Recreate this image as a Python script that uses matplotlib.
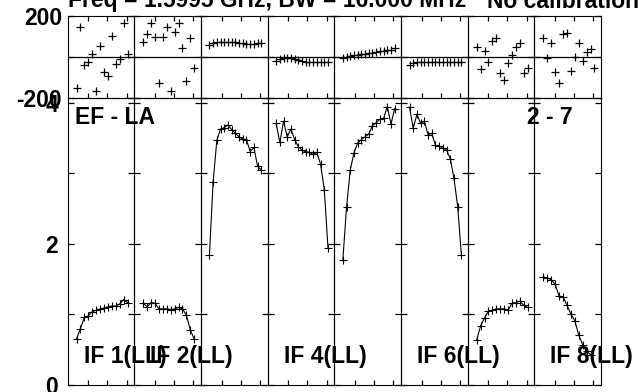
import numpy as np
import matplotlib
matplotlib.use("Agg")
import matplotlib.pyplot as plt

plt.rcParams['font.family'] = ['Liberation Sans', 'DejaVu Sans']
plt.rcParams['font.weight'] = 'bold'
plt.rcParams['font.size'] = 16.5

title_main = "Freq = 1.5995 GHz, BW = 16.000 MHz"
title_note = "No calibration"
baseline_label = "EF - LA"
scan_label = "2 - 7"
if_labels = ["IF 1(LL)", "IF 2(LL)", "", "IF 4(LL)", "", "IF 6(LL)", "", "IF 8(LL)"]

phase_if1 = [-154, 145, -40, -23, 12, -166, 53, -73, -94, 102, -35, -12, 164, 14]
phase_if2 = [74, 112, 167, 96, -130, 96, 145, -166, 123, 167, 42, -118, 91, -53]
phase_if3 = [58, 66, 71, 73, 74, 74, 73, 71, 68, 66, 64, 63, 64, 66, 70]
phase_if4 = [-18, -12, -8, -5, -7, -11, -15, -19, -23, -25, -27, -27, -27, -26, -25]
phase_if5 = [-6, -1, 4, 8, 11, 14, 16, 19, 21, 24, 27, 29, 32, 35, 44]
phase_if6 = [-42, -31, -26, -24, -23, -23, -23, -23, -23, -23, -23, -23, -23, -23, -24]
phase_if7 = [47, -61, 30, -24, 79, 91, -81, -113, -32, 9, 47, 69, -78, -56]
phase_if8 = [91, -7, 66, -73, -127, 110, 115, -68, 1, 66, -19, 25, 37, -56]

amp_if1 = [0.65, 0.80, 0.96, 0.98, 1.04, 1.06, 1.08, 1.09, 1.11, 1.12, 1.12, 1.15, 1.21, 1.17]
amp_if2 = [1.16, 1.11, 1.17, 1.16, 1.08, 1.08, 1.08, 1.07, 1.08, 1.10, 1.08, 0.99, 0.78, 0.65]
amp_if3 = [1.84, 2.88, 3.47, 3.63, 3.65, 3.69, 3.62, 3.57, 3.52, 3.49, 3.48, 3.31, 3.37, 3.10, 3.05]
amp_if4 = [3.71, 3.44, 3.74, 3.52, 3.63, 3.48, 3.38, 3.33, 3.31, 3.30, 3.27, 3.30, 3.13, 2.77, 1.94]
amp_if5 = [1.77, 2.52, 3.05, 3.29, 3.43, 3.48, 3.52, 3.56, 3.68, 3.72, 3.77, 3.78, 3.95, 3.70, 3.92]
amp_if6 = [3.94, 3.64, 3.84, 3.71, 3.74, 3.55, 3.57, 3.40, 3.39, 3.36, 3.33, 3.21, 2.93, 2.53, 1.84]
amp_if7 = [0.64, 0.84, 0.95, 1.05, 1.06, 1.08, 1.08, 1.08, 1.06, 1.16, 1.17, 1.19, 1.13, 1.10]
amp_if8 = [1.53, 1.52, 1.49, 1.43, 1.26, 1.25, 1.13, 1.01, 0.91, 0.71, 0.57, 0.48, 0.43]

phases = [phase_if1, phase_if2, phase_if3, phase_if4, phase_if5, phase_if6, phase_if7, phase_if8]
amps = [amp_if1, amp_if2, amp_if3, amp_if4, amp_if5, amp_if6, amp_if7, amp_if8]

phase_ticks = [-200, 0, 200]
phase_ticklabels = ["-200", "", "200"]
amp_ticks = [0, 1, 2, 3, 4]
amp_ticklabels = ["0", "", "2", "", "4"]

W, H = 639, 392
fig = plt.figure(figsize=(W / 100, H / 100), dpi=100)

x0 = 67.5
pw = 66.7
top_y0, top_y1, bot_y1 = 16.0, 97.7, 385.0
tick_fracs = [0.31, 0.595, 0.885]

for i in range(8):
    left = (x0 + i * pw) / W
    axp = fig.add_axes([left, 1 - top_y1 / H, pw / W, (top_y1 - top_y0) / H])
    axa = fig.add_axes([left, 1 - bot_y1 / H, pw / W, (bot_y1 - top_y1) / H])
    n = max(len(phases[i]), len(amps[i]))
    xl = (-1.3, n + 1.7)
    xt = [xl[0] + f * (xl[1] - xl[0]) for f in tick_fracs]

    ch_p = np.arange(1, len(phases[i]) + 1)
    ch_a = np.arange(1, len(amps[i]) + 1)

    axp.axhline(0, color='k', lw=0.9, zorder=1)
    axp.plot(ch_p, phases[i], linestyle='none', marker='+', color='k',
             ms=5.4, mew=0.9, zorder=3)
    axa.plot(ch_a, amps[i], '-', color='k', lw=0.8, marker='+', ms=5.4,
             mew=0.8, zorder=3)

    for ax in (axp, axa):
        ax.set_xlim(*xl)
        ax.set_xticks(xt)
        ax.set_facecolor('none')
        for s in ax.spines.values():
            s.set_linewidth(0.8)
            s.set_color('k')

    axp.set_ylim(-200, 200)
    axa.set_ylim(0, 4.075)
    axp.set_yticks(phase_ticks)
    axa.set_yticks(amp_ticks)

    axp.tick_params(axis='x', which='both', direction='in', length=3.6,
                    width=0.9, top=True, bottom=True, labelbottom=False, labeltop=False)
    axa.tick_params(axis='x', which='both', direction='in', length=3.6,
                    width=0.9, top=False, bottom=True, labelbottom=False)
    axp.tick_params(axis='y', direction='in', length=4.5, width=0.9,
                    left=True, right=True, pad=4.0, labelsize=16.5)
    axa.tick_params(axis='y', direction='in', length=4.5, width=0.9,
                    left=True, right=True, pad=6.8, labelsize=16.5)
    if i == 0:
        axp.set_yticklabels(phase_ticklabels, fontweight='bold')
        axa.set_yticklabels(amp_ticklabels, fontweight='bold')
    else:
        axp.tick_params(axis='y', labelleft=False)
        axa.tick_params(axis='y', labelleft=False)

    if if_labels[i]:
        fig.text((x0 + i * pw + 16) / W, 1 - 363 / H, if_labels[i],
                 ha='left', va='baseline', fontsize=16.5, fontweight='bold')

fig.text(68 / W, 1 - 7.5 / H, title_main, ha='left', va='baseline',
         fontsize=16.5, fontweight='bold')
fig.text(487 / W, 1 - 7.5 / H, title_note, ha='left', va='baseline',
         fontsize=16.5, fontweight='bold')
fig.text(75 / W, 1 - 124 / H, baseline_label, ha='left', va='baseline',
         fontsize=16.5, fontweight='bold')
fig.text(573 / W, 1 - 124 / H, scan_label, ha='right', va='baseline',
         fontsize=16.5, fontweight='bold')

fig.savefig("out.png", dpi=100)
